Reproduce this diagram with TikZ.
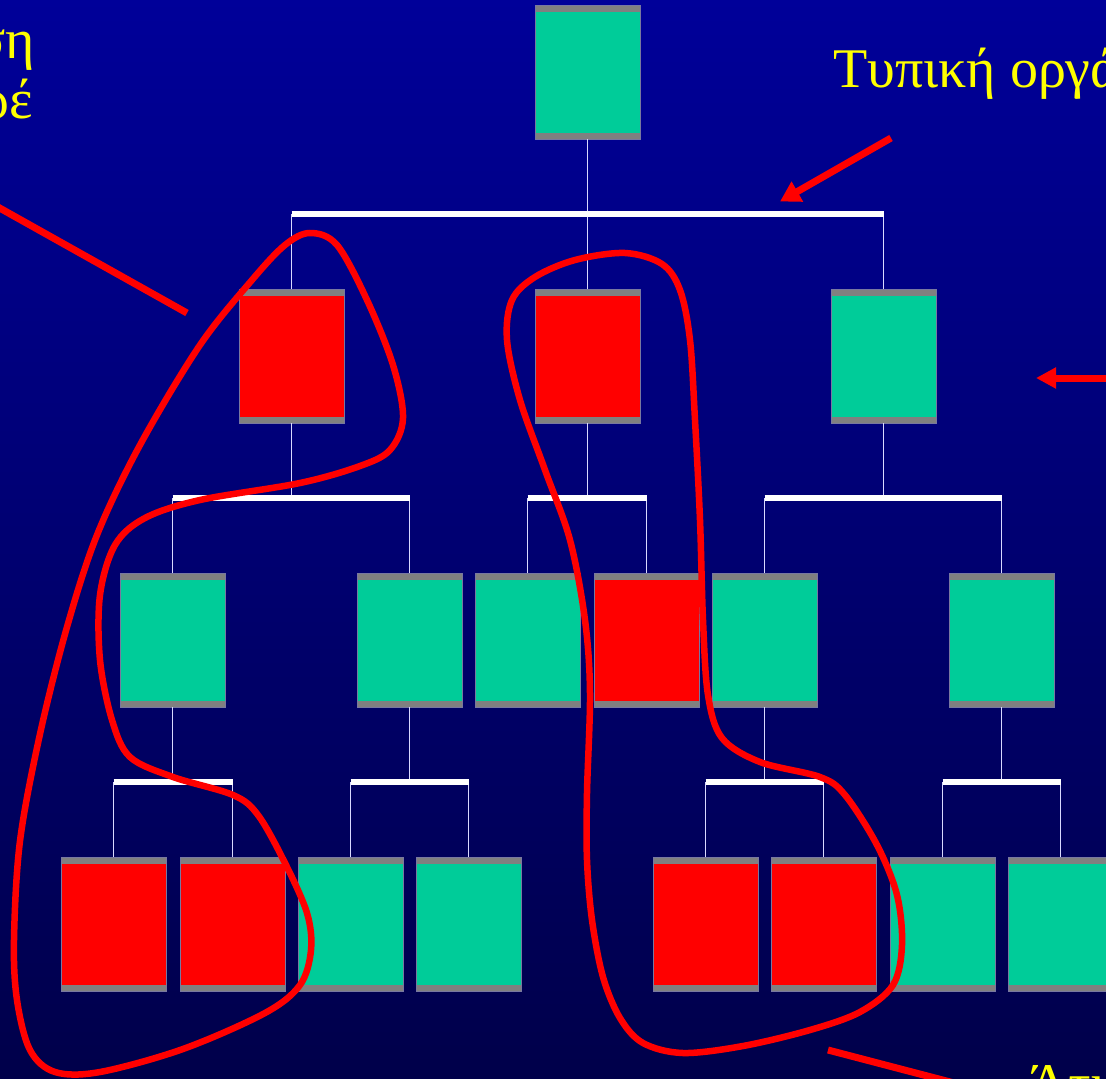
\documentclass[tikz,border=0pt]{standalone}
\usepackage{fontspec}
\setmainfont{Liberation Serif}
\usepackage{xcolor}
\usetikzlibrary{calc,positioning,arrows.meta}

\definecolor{bgtop}{RGB}{0,0,153}
\definecolor{bgbot}{RGB}{0,0,74}
\definecolor{okgreen}{RGB}{0,204,153}
\definecolor{badred}{RGB}{255,0,0}
\definecolor{capgrey}{RGB}{128,128,128}
\definecolor{rimgrey}{RGB}{120,120,160}
\definecolor{textyellow}{RGB}{255,255,0}

\tikzset{
  unit/.style={rectangle, minimum width=105pt, minimum height=134pt, inner sep=0pt,
    fill=capgrey, draw=rimgrey, line width=0.8pt,
    path picture={\fill[#1] ([yshift=-6.5pt]path picture bounding box.north west)
      rectangle ([yshift=6.5pt]path picture bounding box.south east);}},
  wire/.style={draw=white!85!blue, line width=1.4pt},
  bar/.style={draw=white, line width=6pt},
  ring/.style={draw=badred, line width=6.5pt},
  pointer/.style={draw=badred, line width=7pt},
  caption/.style={text=textyellow, inner sep=0pt, font=\fontsize{56}{64}\selectfont},
}

\begin{document}
\begin{tikzpicture}[x=1pt,y=-1pt]
  \useasboundingbox (0,0) rectangle (1106,1079);
  \shade[top color=bgtop, bottom color=bgbot] (0,0) rectangle (1106,1079);
  \clip (0,0) rectangle (1106,1079);

  % top of the tree
  \node[unit=okgreen] at (587.5,72) (boss) {};

  \node[unit=badred]  at (291.5,356) (mgrL) {};
  \node[unit=badred]  at (587.5,356) (mgrM) {};
  \node[unit=okgreen] at (883.5,356) (mgrR) {};

  \node[unit=okgreen] at (172.5,640)  (supA) {};
  \node[unit=okgreen] at (409.5,640)  (supB) {};
  \node[unit=okgreen] at (527.5,640)  (supC) {};
  \node[unit=badred]  at (646.5,640)  (supD) {};
  \node[unit=okgreen] at (764.5,640)  (supE) {};
  \node[unit=okgreen] at (1001.5,640) (supF) {};

  \node[unit=badred]  at (113.5,924)  (wkA) {};
  \node[unit=badred]  at (232.5,924)  (wkB) {};
  \node[unit=okgreen] at (350.5,924)  (wkC) {};
  \node[unit=okgreen] at (468.5,924)  (wkD) {};
  \node[unit=badred]  at (705.5,924)  (wkE) {};
  \node[unit=badred]  at (823.5,924)  (wkF) {};
  \node[unit=okgreen] at (942.5,924)  (wkG) {};
  \node[unit=okgreen] at (1060.5,924) (wkH) {};

  % formal lines
  \draw[wire] (boss.south) -- ++(0,75) coordinate (j0);
  \draw[wire] (mgrL.north) -- (mgrL.north |- j0) (mgrM.north) -- (mgrM.north |- j0) (mgrR.north) -- (mgrR.north |- j0);
  \draw[bar] (mgrL.north |- j0) -- (mgrR.north |- j0);

  \draw[wire] (mgrL.south) -- ++(0,75) coordinate (j1);
  \draw[wire] (supA.north) -- (supA.north |- j1) (supB.north) -- (supB.north |- j1);
  \draw[bar] (supA.north |- j1) -- (supB.north |- j1);

  \draw[wire] (mgrM.south) -- ++(0,75) coordinate (j2);
  \draw[wire] (supC.north) -- (supC.north |- j2) (supD.north) -- (supD.north |- j2);
  \draw[bar] (supC.north |- j2) -- (supD.north |- j2);

  \draw[wire] (mgrR.south) -- ++(0,75) coordinate (j3);
  \draw[wire] (supE.north) -- (supE.north |- j3) (supF.north) -- (supF.north |- j3);
  \draw[bar] (supE.north |- j3) -- (supF.north |- j3);

  \draw[wire] (supA.south) -- ++(0,75) coordinate (j4);
  \draw[wire] (wkA.north) -- (wkA.north |- j4) (wkB.north) -- (wkB.north |- j4);
  \draw[bar] (wkA.north |- j4) -- (wkB.north |- j4);

  \draw[wire] (supB.south) -- ++(0,75) coordinate (j5);
  \draw[wire] (wkC.north) -- (wkC.north |- j5) (wkD.north) -- (wkD.north |- j5);
  \draw[bar] (wkC.north |- j5) -- (wkD.north |- j5);

  \draw[wire] (supE.south) -- ++(0,75) coordinate (j6);
  \draw[wire] (wkE.north) -- (wkE.north |- j6) (wkF.north) -- (wkF.north |- j6);
  \draw[bar] (wkE.north |- j6) -- (wkF.north |- j6);

  \draw[wire] (supF.south) -- ++(0,75) coordinate (j7);
  \draw[wire] (wkG.north) -- (wkG.north |- j7) (wkH.north) -- (wkH.north |- j7);
  \draw[bar] (wkG.north |- j7) -- (wkH.north |- j7);

  % informal groups
  \draw[ring] plot[smooth cycle, tension=0.55] coordinates {
    (310,233) (337,245) (367,300) (393,365) (403,418) (390,450) (360,466) (300,483) (200,500)
    (145,518) (115,545) (100,595) (100,660) (112,720) (130,757) (173,777) (233,795)
    (258,815) (285,863) (307,913) (311,950) (300,985) (265,1013) (183,1049) (100,1072)
    (55,1072) (30,1050) (17,1000) (14,940) (20,841) (40,734) (67,627) (97,535)
    (140,445) (200,345) (252,280) (285,245)};
  \draw[ring] plot[smooth cycle, tension=0.55] coordinates {
    (625,253) (662,264) (680,290) (690,340) (695,420) (700,520) (703,620) (708,695)
    (722,738) (760,762) (820,777) (845,795) (877,845) (897,895) (902,945) (893,985)
    (860,1012) (810,1030) (743,1046) (683,1053) (643,1043) (620,1018) (603,977) (592,920)
    (587,860) (587,793) (590,693) (585,620) (570,540) (545,470) (520,400) (507,340)
    (512,300) (535,277) (575,260)};

  % pointers
  \coordinate (fromTL) at (-12,201.5);
  \coordinate (toTL) at (187,313);
  \draw[pointer] (fromTL) -- (toTL);
  \coordinate (fromTR) at (891,138);
  \coordinate (toTR) at (780,201.5);
  \draw[pointer, -{Triangle[length=20pt,width=22pt]}] (fromTR) -- (toTR);
  \coordinate (fromR) at (1115,378);
  \coordinate (toR) at (1036,378);
  \draw[pointer, -{Triangle[length=20pt,width=20pt]}] (fromR) -- (toR);
  \coordinate (fromBR) at (828,1050);
  \coordinate (toBR) at (1000,1095);
  \draw[pointer] (fromBR) -- (toBR);

  % captions, cut by the frame as in the slide
  \node[caption, anchor=base east] at (35,58) (capL1) {ση};
  \node[caption, anchor=base east] at (33,118) (capL2) {ρέ};
  \node[caption, anchor=base west] at (833,87) (capTR) {Τυπική οργά};
  \node[caption, anchor=base west] at (1028,1102) (capBR) {Άτυ};
\end{tikzpicture}
\end{document}
